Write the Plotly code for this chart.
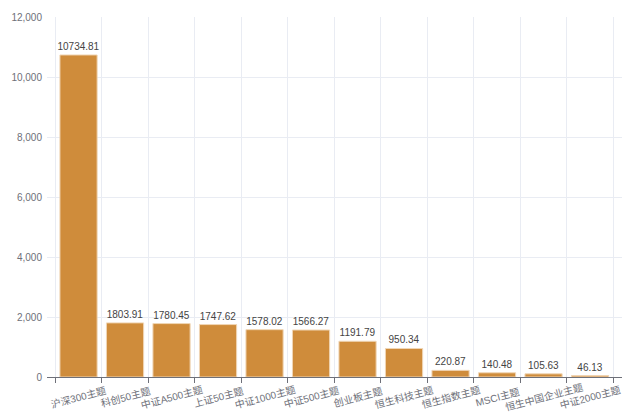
import plotly.graph_objects as go

categories = ["沪深300主题", "科创50主题", "中证A500主题", "上证50主题", "中证1000主题", "中证500主题",
              "创业板主题", "恒生科技主题", "恒生指数主题", "MSCI主题", "恒生中国企业主题", "中证2000主题"]
values = [10734.81, 1803.91, 1780.45, 1747.62, 1578.02, 1566.27, 1191.79, 950.34, 220.87, 140.48, 105.63, 46.13]
y_ticks = [0, 2000, 4000, 6000, 8000, 10000, 12000]

FONT = "Liberation Sans, Noto Sans CJK SC, sans-serif"

fig = go.Figure(go.Bar(
    x=categories, y=values,
    marker=dict(color="#cf8c3b", line=dict(color="#f0d6b6", width=1)),
    text=[f"{v:.2f}" for v in values], textposition="outside", constraintext="none",
    textfont=dict(size=10, color="#444", family=FONT), cliponaxis=False,
))
for c in categories:
    fig.add_annotation(x=c, xref="x", y=0, yref="paper", text=c, showarrow=False,
                       textangle=-15, xanchor="center", yanchor="middle", yshift=-20,
                       font=dict(size=10, color="#6e7079", family=FONT))
# page body has an 8px default margin, so the figure is sized to 622x409
fig.update_layout(
    width=622, height=409, margin=dict(l=39, r=6, t=9, b=40),
    paper_bgcolor="white", plot_bgcolor="white",
    font=dict(family=FONT, size=10, color="#6e7079"),
    bargap=0.2, showlegend=False,
)
fig.update_xaxes(tickson="boundaries", showgrid=True, gridcolor="#e9ecf3", gridwidth=1,
                 showline=True, linecolor="#6e7079", ticks="outside", ticklen=5, tickcolor="#6e7079",
                 showticklabels=False, automargin=False)
fig.update_yaxes(range=[0, 12000], tickvals=y_ticks, tickformat=",", gridcolor="#e9ecf3",
                 showline=False, zeroline=False, ticks="", automargin=False,
                 ticklabelstandoff=4, tickfont=dict(size=10, color="#6e7079"))
fig.write_html("out.html")
